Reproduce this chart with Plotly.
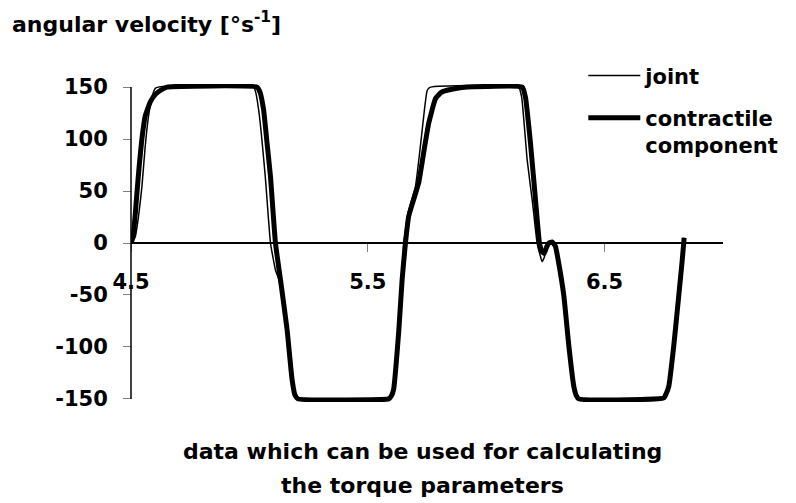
import plotly.graph_objects as go

# ---- data ----
time_contractile = [4.500, 4.508, 4.517, 4.525, 4.535, 4.546, 4.560, 4.582, 4.603, 4.625, 4.652,
                    5.032, 5.045, 5.060, 5.075, 5.089, 5.110, 5.131, 5.159, 5.180, 5.192, 5.205,
                    5.400, 5.588, 5.600, 5.609, 5.631, 5.645, 5.659, 5.673, 5.694, 5.715, 5.736,
                    5.757, 5.786, 5.810, 5.835, 5.877, 5.920, 6.152, 6.166, 6.187, 6.205, 6.225,
                    6.235, 6.245, 6.255, 6.265, 6.278, 6.292, 6.306, 6.328, 6.349, 6.370, 6.381,
                    6.391, 6.550, 6.750, 6.760, 6.771, 6.792, 6.813, 6.828, 6.836]
vel_contractile = [0, 5, 25, 48, 75, 100, 122, 136, 143, 147, 150,
                   150, 145, 128, 95, 64, 0, -35, -83, -131, -146, -150,
                   -151, -150, -147, -141, -84, -35, 0, 26, 42, 58, 87,
                   115, 139, 145, 147, 149, 150, 150, 140, 96, 50, 0,
                   -8, -10, -4, 0, 1, -3, -19, -51, -99, -138, -147,
                   -150, -151, -149, -145, -138, -99, -51, -16, 5]

time_joint = [4.500, 4.518, 4.532, 4.546, 4.560, 4.574, 4.589, 4.603, 4.615,
              5.018, 5.039, 5.067, 5.089, 5.110, 5.124, 5.145, 5.159, 5.180, 5.192, 5.205,
              5.400, 5.588, 5.600, 5.609, 5.631, 5.645, 5.652, 5.673, 5.701, 5.722, 5.739,
              5.751, 5.765, 6.137, 6.150, 6.173, 6.195, 6.215, 6.228, 6.236, 6.245, 6.262,
              6.275, 6.292, 6.306, 6.328, 6.349, 6.370, 6.381, 6.391, 6.550, 6.750, 6.760,
              6.771, 6.792, 6.813, 6.828, 6.836]
vel_joint = [0, 6, 26, 54, 93, 122, 141, 149, 150,
             150, 128, 64, 0, -26, -35, -58, -83, -131, -146, -150,
             -151, -150, -147, -141, -84, -35, 0, 32, 54, 93, 128,
             147, 150, 150, 140, 80, 40, 0, -12, -18, -14, 0,
             1, -3, -19, -51, -99, -138, -147, -150, -151, -149, -145,
             -138, -99, -51, -16, 5]

x_tick_vals = [4.5, 5.5, 6.5]
x_tick_text = ["4.5", "5.5", "6.5"]
y_tick_vals = [-150, -100, -50, 0, 50, 100, 150]
y_tick_text = ["-150", "-100", "-50", "0", "50", "100", "150"]

FONT = "DejaVu Sans"
tick_font = dict(family=FONT, size=21, color="black", weight="bold")

fig = go.Figure()
fig.add_trace(go.Scatter(x=time_joint, y=vel_joint, mode="lines", name="joint",
                         legendgroup="g1",
                         line=dict(color="black", width=1.5, shape="spline", smoothing=0.4)))
fig.add_trace(go.Scatter(x=time_contractile, y=vel_contractile, mode="lines",
                         name="contractile<br>component", legendgroup="g2",
                         line=dict(color="black", width=5, shape="spline", smoothing=0.4)))

fig.update_layout(
    width=796, height=503,
    margin=dict(l=123, r=81, t=76, b=109),
    paper_bgcolor="white", plot_bgcolor="white",
    font=dict(family=FONT, size=21, color="black", weight="bold"),
    title=dict(text="angular velocity [°s<sup>-1</sup>]", xref="container", yref="container",
               x=4 / 796, xanchor="left", y=1 - 16 / 503, yanchor="middle",
               font=dict(family=FONT, size=22, color="black", weight="bold")),
    showlegend=True,
    legend=dict(x=0.764, xanchor="left", y=1.09, yanchor="top", valign="top",
                font=dict(family=FONT, size=21, color="black", weight="bold"),
                bgcolor="rgba(0,0,0,0)", itemwidth=52, tracegroupgap=12),
    xaxis=dict(range=[4.5, 7.0], anchor="free", position=0.5,
               tickvals=x_tick_vals, ticktext=x_tick_text, ticks="outside", ticklen=8,
               tickcolor="#808080", tickwidth=1, showline=True, linecolor="black", linewidth=1.5,
               showgrid=False, zeroline=False, tickfont=tick_font, ticklabelstandoff=12),
    xaxis2=dict(range=[4.5, 7.0], overlaying="x", anchor="free", position=0.5,
                tickvals=x_tick_vals, ticks="inside", ticklen=8, tickcolor="#808080", tickwidth=1,
                showticklabels=False, showline=False, showgrid=False, zeroline=False),
    yaxis=dict(range=[-153, 153], anchor="free", position=0,
               tickvals=y_tick_vals, ticktext=y_tick_text, ticks="outside", ticklen=8,
               tickcolor="#808080", tickwidth=1, showline=False,
               showgrid=False, zeroline=False, tickfont=tick_font, ticklabelstandoff=11),
    yaxis2=dict(range=[-153, 153], overlaying="y", anchor="free", position=0,
                tickvals=y_tick_vals, ticks="inside", ticklen=8, tickcolor="#808080", tickwidth=1,
                showticklabels=False, showline=False, showgrid=False, zeroline=False),
    annotations=[
        dict(text="data which can be used for calculating", xref="paper", yref="paper",
             x=0.4916, y=-(444 - 394.4) / 318, xanchor="center", yanchor="middle", showarrow=False,
             font=dict(family=FONT, size=22, color="black", weight="bold")),
        dict(text="the torque parameters", xref="paper", yref="paper",
             x=0.4916, y=-(478 - 394.4) / 318, xanchor="center", yanchor="middle", showarrow=False,
             font=dict(family=FONT, size=22, color="black", weight="bold")),
    ],
)

# y axis line spanning exactly -150..150
fig.add_shape(type="line", xref="paper", yref="y", x0=0, x1=0, y0=y_tick_vals[0], y1=y_tick_vals[-1],
              line=dict(color="black", width=1.5))

fig.write_html("out.html")
